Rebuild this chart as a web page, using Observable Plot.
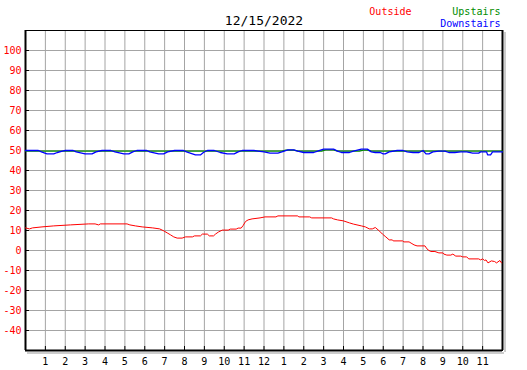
<!DOCTYPE html>
<html>
<head>
<meta charset="utf-8">
<script src="https://cdn.jsdelivr.net/npm/d3@7"></script>
<script src="https://cdn.jsdelivr.net/npm/@observablehq/plot@0.6"></script>
<style>
  html, body { margin: 0; padding: 0; background: #fff; }
</style>
</head>
<body>
<div id="chart"></div>
<script>
const title = "12/15/2022";
const seriesNames = ["Outside", "Upstairs", "Downstairs"];
const seriesColors = ["#ff0000", "#008c00", "#0000ff"];
const hourTicks = [1,2,3,4,5,6,7,8,9,10,11,12,13,14,15,16,17,18,19,20,21,22,23];
const hourLabels = ["1","2","3","4","5","6","7","8","9","10","11","12","1","2","3","4","5","6","7","8","9","10","11"];
const tempTicks = [-40,-30,-20,-10,0,10,20,30,40,50,60,70,80,90,100];

const outsideHours = [0,0.2,0.35,0.83,1.42,2.26,3.18,3.5,3.68,3.77,5.11,5.25,5.53,5.87,6.4,6.75,6.96,7.13,7.3,7.46,7.63,7.88,8.05,8.4,8.5,8.8,8.9,9.15,9.25,9.46,9.56,9.7,9.9,10.2,10.3,10.6,10.7,10.85,10.95,11.07,11.2,11.4,11.8,12.05,12.6,12.7,13.7,13.75,14.3,14.4,15.4,15.5,15.7,16.0,16.3,16.5,16.9,17.1,17.3,17.45,17.6,17.8,17.96,18.13,18.3,18.46,18.5,18.97,19.04,19.3,19.4,19.55,19.7,20.1,20.2,20.3,20.4,20.6,20.8,21.0,21.05,21.2,21.4,21.5,21.65,21.9,22.0,22.2,22.3,22.8,22.9,23.0,23.1,23.17,23.27,23.44,23.6,23.7,23.87,23.95];
const outsideTemps = [11.3,10.8,11.3,11.8,12.3,12.8,13.3,13.3,12.8,13.3,13.3,12.8,12.3,11.8,11.3,10.8,9.8,8.8,7.8,6.8,6.2,6.2,6.8,6.8,7.3,7.3,8.2,8.2,7.3,7.3,8.2,9.2,10.2,10.2,10.7,10.7,11.2,11.2,12.5,14.5,15.3,15.8,16.3,16.8,16.8,17.3,17.3,16.8,16.8,16.3,16.3,15.8,15.3,14.8,13.8,13.2,12.3,11.8,10.8,10.8,11.5,9.8,8.2,6.8,5.3,5.3,4.8,4.8,4.3,4.3,3.7,2.8,2.3,2.3,0.8,0,-0.5,-0.5,-1.2,-1.2,-1.8,-2.3,-2.3,-1.8,-2.8,-2.8,-3.2,-3.2,-4.2,-4.2,-4.7,-4.2,-5,-4.7,-6.2,-5.2,-5.5,-6.2,-5,-6.2];

const upstairsHours = [0,12.9,13.1,13.5,13.7,14.9,15.1,15.5,15.7,16.8,17.0,17.2,17.4,24];
const upstairsTemps = [49.7,49.7,50.2,50.2,49.7,49.7,50.3,50.3,49.7,49.7,50.2,50.2,49.7,49.7];

const downstairsHours = [0,0.65,0.8,1.08,1.42,1.6,1.85,2.0,2.4,2.55,3.0,3.35,3.55,3.85,4.3,4.5,4.95,5.2,5.4,5.6,6.1,6.25,6.7,6.95,7.15,7.5,7.95,8.1,8.55,8.8,8.95,9.15,9.5,9.8,10.15,10.5,10.7,10.9,11.5,11.7,12.0,12.3,12.7,12.9,13.2,13.5,13.7,14.0,14.5,14.7,15.0,15.5,15.7,15.9,16.3,16.5,16.9,17.2,17.4,17.6,17.85,18.0,18.1,18.3,18.7,19.0,19.2,19.5,19.8,20.0,20.15,20.3,20.5,20.8,21.1,21.3,21.6,21.9,22.2,22.5,22.8,22.9,23.2,23.25,23.4,23.5,24];
const downstairsTemps = [50,50,49.3,48.3,48.3,49,49.7,50,50,49.3,48.3,48.3,49.3,50,50,49.3,48.3,48.3,49.3,50,50,49.3,48.3,48.3,49.3,50,50,49.3,47.8,47.8,49,50,50,49,48.3,48.3,49.3,50,50,49.7,49.3,48.7,48.7,49.3,50.3,50.3,49.7,49,49,49.7,50.7,50.7,49.7,49,49,49.7,50.7,50.7,49.3,49,49,48.3,48.3,49.3,50,50,49.3,49,49,50,48.3,48.3,49.3,49.7,49.7,49,49,49.3,49.3,48.7,48.7,49.3,49.3,47.8,47.8,49.3,49.3];

const toRows = (hs, ts) => hs.map((h, i) => ({hour: h, temp: ts[i]}));
const outside = toRows(outsideHours, outsideTemps);
const upstairs = toRows(upstairsHours, upstairsTemps);
const downstairs = toRows(downstairsHours, downstairsTemps);

const font = "'DejaVu Sans Mono', 'Liberation Mono', monospace";

const chart = Plot.plot({
  width: 527,
  height: 370,
  marginLeft: 25,
  marginRight: 25,
  marginTop: 30,
  marginBottom: 20,
  style: {fontFamily: font, fontSize: "10px", background: "#fff", overflow: "visible"},
  x: {domain: [0, 24], axis: null},
  y: {domain: [-50, 110], axis: null},
  marks: [
    Plot.gridX(hourTicks, {stroke: "#a4a4a4", strokeOpacity: 1}),
    Plot.gridY(tempTicks, {stroke: "#a4a4a4", strokeOpacity: 1}),
    // shadow on right and bottom
    Plot.ruleX([24], {dx: 2.5, dy: 2, stroke: "#9a9a9a", strokeWidth: 1}),
    Plot.ruleY([-50], {dy: 2.5, dx: 2, stroke: "#9a9a9a", strokeWidth: 1}),
    Plot.frame({stroke: "#000", strokeWidth: 1}),
    Plot.ruleX([0], {stroke: "#000", strokeWidth: 2}),
    Plot.ruleX([24], {stroke: "#000", strokeWidth: 2}),
    Plot.ruleY([-50], {stroke: "#000", strokeWidth: 2}),
    // inward ticks
    Plot.ruleY(tempTicks, {x1: 0, x2: 0.2, stroke: "#000", strokeWidth: 1}),
    Plot.ruleX(hourTicks, {y1: -50, y2: -48, stroke: "#000", strokeWidth: 1}),
    // axis labels
    Plot.axisY(tempTicks, {anchor: "left", label: null, tickSize: 0, tickPadding: 4, fill: "#ff0000", fontSize: 10, tickFormat: d => String(d)}),
    Plot.axisX(hourTicks, {anchor: "bottom", label: null, tickSize: 0, tickPadding: 7, fill: "#000", fontSize: 10, tickFormat: d => hourLabels[hourTicks.indexOf(d)]}),
    // lines
    Plot.line(outside, {x: "hour", y: "temp", stroke: seriesColors[0], strokeWidth: 1}),
    Plot.line(upstairs, {x: "hour", y: "temp", stroke: seriesColors[1], strokeWidth: 1.3}),
    Plot.line(downstairs, {x: "hour", y: "temp", stroke: seriesColors[2], strokeWidth: 1.3}),
    // title and legend
    Plot.text([title], {frameAnchor: "top", lineAnchor: "middle", dy: -10, fontSize: 13, fill: "#000", text: d => d}),
    Plot.text([seriesNames[0]], {frameAnchor: "top-right", textAnchor: "end", lineAnchor: "middle", dx: -91, dy: -19, fontSize: 10, fill: seriesColors[0], text: d => d}),
    Plot.text([seriesNames[1]], {frameAnchor: "top-right", textAnchor: "end", lineAnchor: "middle", dx: -2, dy: -19, fontSize: 10, fill: seriesColors[1], text: d => d}),
    Plot.text([seriesNames[2]], {frameAnchor: "top-right", textAnchor: "end", lineAnchor: "middle", dx: -2, dy: -7, fontSize: 10, fill: seriesColors[2], text: d => d})
  ]
});
document.getElementById("chart").appendChild(chart);
</script>
</body>
</html>
